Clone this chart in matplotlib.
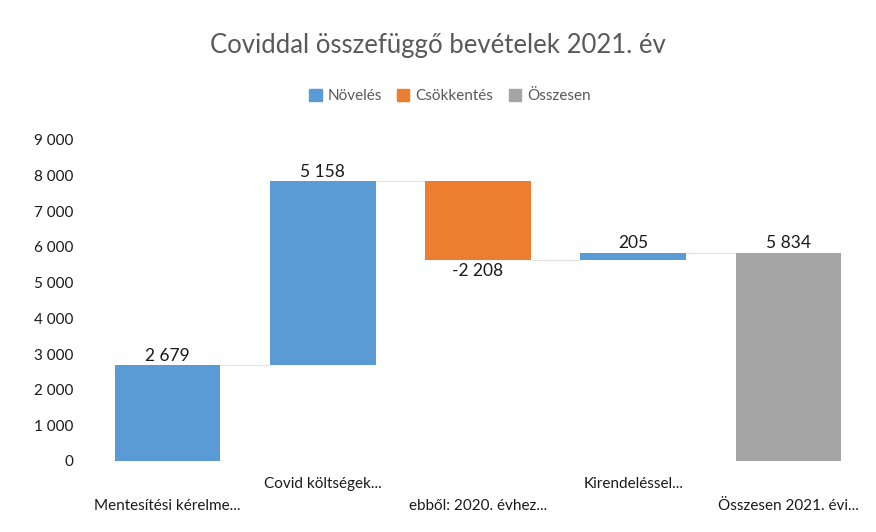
import matplotlib
matplotlib.use("Agg")
import matplotlib.pyplot as plt
from matplotlib.patches import Patch
from matplotlib.transforms import blended_transform_factory

categories = ["Mentesítési kérelme...", "Covid költségek...", "ebből: 2020. évhez...",
              "Kirendeléssel...", "Összesen 2021. évi..."]
values = [2679, 5158, -2208, 205, 5834]
kinds = ["inc", "inc", "dec", "inc", "total"]
labels = ["2 679", "5 158", "-2 208", "205", "5 834"]
yticks = [0, 1000, 2000, 3000, 4000, 5000, 6000, 7000, 8000, 9000]
ytick_labels = ["0", "1 000", "2 000", "3 000", "4 000", "5 000", "6 000", "7 000", "8 000", "9 000"]

colors = {"inc": "#5B9BD5", "dec": "#ED7D31", "total": "#A5A5A5"}
font = "Lato"
plt.rcParams['font.family'] = [font, 'DejaVu Sans']

fig = plt.figure(figsize=(8.76, 5.32), dpi=100)
ax = fig.add_axes([90/876, 1-461/532, 776/876, 321/532])

running = 0
tops = []
for i, (v, k) in enumerate(zip(values, kinds)):
    if k == "total":
        b, h = 0, v
        running = v
    else:
        b, h = running, v
        running += v
    ax.bar(i, h, bottom=b, width=0.68, color=colors[k], zorder=3)
    lo, hi = min(b, b + h), max(b, b + h)
    if v < 0:
        ax.text(i, lo - 70, labels[i], ha="center", va="top", fontsize=12.5, color="#1a1a1a")
    else:
        ax.text(i, hi + 50, labels[i], ha="center", va="bottom", fontsize=12.5, color="#1a1a1a")
    tops.append(running)

# connector lines
for i in range(len(values) - 1):
    ax.plot([i + 0.34, i + 1 - 0.34], [tops[i], tops[i]], color="#E4E4E4", lw=0.8, zorder=2)

ax.set_xlim(-0.5, 4.5)
ax.set_ylim(0, 9000)
ax.set_yticks(yticks)
ax.set_yticklabels(ytick_labels, fontsize=11, color="#1a1a1a")
ax.tick_params(axis="y", length=0, pad=12)
ax.set_xticks([])
for s in ax.spines.values():
    s.set_visible(False)
ax.axhline(0, color="#E4E4E4", lw=0.8, zorder=2)

trans = blended_transform_factory(ax.transData, fig.transFigure)
for i, c in enumerate(categories):
    y = 1 - 506/532 if i % 2 == 0 else 1 - 484/532
    ax.text(i, y, c, transform=trans, ha="center", va="center", fontsize=11, color="#1a1a1a")

fig.text(0.5, 1 - 45/532, "Coviddal összefüggő bevételek 2021. év", ha="center", va="center",
         fontsize=18.5, color="#595959")
handles = [Patch(color=colors["inc"], label="Növelés"),
           Patch(color=colors["dec"], label="Csökkentés"),
           Patch(color=colors["total"], label="Összesen")]
fig.legend(handles=handles, loc="center", bbox_to_anchor=(450/876, 1 - 96/532), ncol=3,
           frameon=False, fontsize=11, handlelength=0.8, handleheight=0.8,
           handletextpad=0.4, columnspacing=1.0, labelcolor="#595959")

fig.savefig("out.png", dpi=100)
